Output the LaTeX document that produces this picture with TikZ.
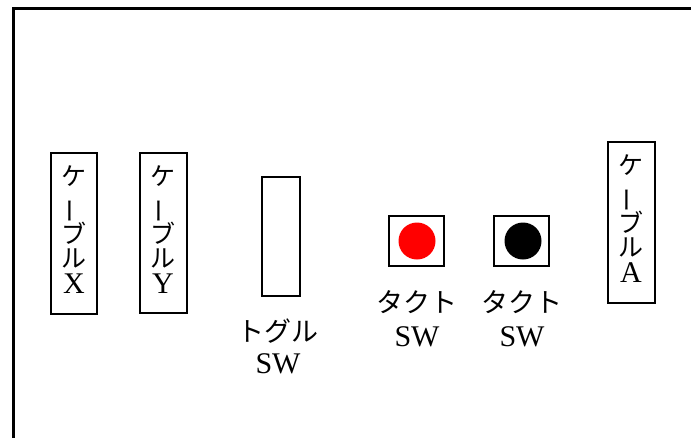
\documentclass[tikz,border=0pt]{standalone}
\usepackage{fontspec}
\setmainfont{Liberation Serif}
\newfontfamily\jp{Noto Sans CJK JP}
\tikzset{
  x=1pt,y=-1pt,
  frame/.style={draw=black,line width=3pt},
  box/.style={draw=black,line width=2.8pt},
  jl/.style={font=\jp\fontsize{27}{27}\selectfont,inner sep=0pt},
  vj/.style={font=\jp\fontsize{25}{25}\selectfont,inner sep=0pt,text height=17pt,text depth=0pt},
  ll/.style={font=\fontsize{30}{30}\selectfont,inner sep=0pt},
}
\newcommand{\vbar}{\rotatebox[origin=c]{90}{ー}}
\begin{document}
\begin{tikzpicture}
\useasboundingbox (0,0) rectangle (691,437);
\clip (0,0) rectangle (691,437);
\draw[frame] (13,8) rectangle (720,470);
% cable X
\draw[box] (51,153) rectangle (97,314);
\node[vj] (x1) at (74,177) {ケ};
\node[vj] (x2) at (74,208) {\vbar};
\node[vj] (x3) at (74,235) {ブ};
\node[vj] (x4) at (74,259) {ル};
\node[ll] (x5) at (74,284) {X};
% cable Y
\draw[box] (140,153) rectangle (187,313);
\node[vj] (y1) at (163,177) {ケ};
\node[vj] (y2) at (163,208) {\vbar};
\node[vj] (y3) at (163,235) {ブ};
\node[vj] (y4) at (163,259) {ル};
\node[ll] (y5) at (163,284) {Y};
% toggle
\draw[box] (262,177) rectangle (300,296);
\node[jl] (tg1) at (278,331) {トグル};
\node[ll] (tg2) at (278,364) {SW};
% tact red
\draw[box] (389,216) rectangle (444,266);
\fill[red] (417,241) circle (18.5);
\node[jl] (t1a) at (417,302) {タクト};
\node[ll] (t1b) at (417,337) {SW};
% tact black
\draw[box] (494,216) rectangle (549,266);
\fill[black] (523,241) circle (18.5);
\node[jl] (t2a) at (522,302) {タクト};
\node[ll] (t2b) at (522,337) {SW};
% cable A
\draw[box] (608,142) rectangle (655,303);
\node[vj] (a1) at (631,166) {ケ};
\node[vj] (a2) at (631,197) {\vbar};
\node[vj] (a3) at (631,224) {ブ};
\node[vj] (a4) at (631,248) {ル};
\node[ll] (a5) at (631,273) {A};
\end{tikzpicture}
\end{document}
